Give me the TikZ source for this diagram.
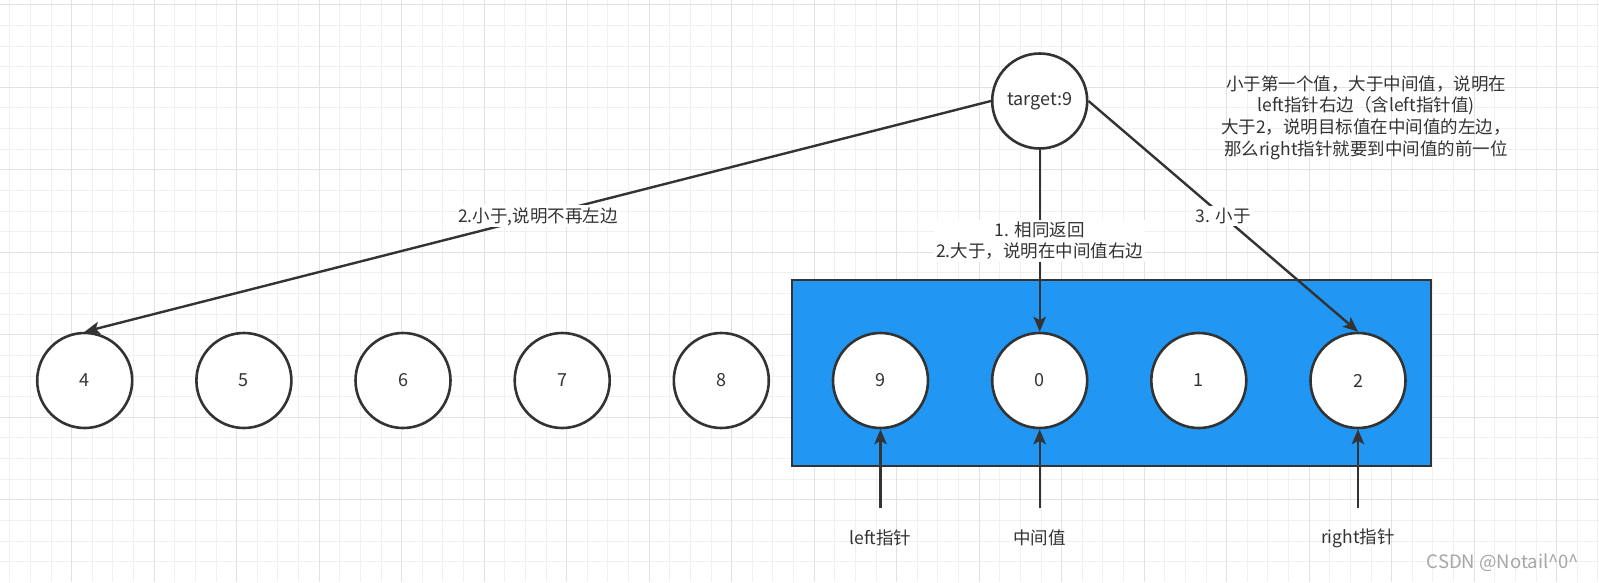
\documentclass[tikz,border=0pt]{standalone}
\usepackage{fontspec}
\setmainfont{Noto Sans CJK SC}
\usetikzlibrary{arrows.meta}
\definecolor{ink}{HTML}{333333}
\definecolor{boxblue}{HTML}{2196F3}
\definecolor{gridminor}{HTML}{F0F0F0}
\definecolor{gridmajor}{HTML}{E2E2E2}
\definecolor{wm}{HTML}{A6A6A6}
\tikzset{
  numnode/.style={circle, draw=ink, line width=2.6pt, fill=white, minimum size=95pt, inner sep=0pt,
    font=\fontsize{18}{21.6}\selectfont, text=ink},
  bluebox/.style={rectangle, draw=ink, fill=boxblue, line width=2.5pt, inner sep=0pt},
  conn/.style={draw=ink, line width=2.4pt, -{Stealth[length=15pt,width=12.5pt,inset=3.5pt]}},
  edgelabel/.style={fill=white, inner sep=2pt, text=ink, align=center,
    font=\fontsize{17.5}{21.6}\selectfont},
  plaintext/.style={inner sep=0pt, text=ink, align=center, font=\fontsize{17.5}{21.6}\selectfont},
  minorline/.style={draw=gridminor, line width=1pt},
  majorline/.style={draw=gridmajor, line width=1pt},
}
\begin{document}
\begin{tikzpicture}[x=1pt,y=-1pt]
\useasboundingbox (0,0) rectangle (1599,582);
\fill[white] (0,0) rectangle (1599,582);
% grid
\foreach \k in {0,...,77} {
  \draw[minorline] ({9.8+20.625*\k},0) -- ({9.8+20.625*\k},582);
}
\foreach \k in {0,...,27} {
  \draw[minorline] (0,{4.8+20.625*\k}) -- (1599,{4.8+20.625*\k});
}
\foreach \k in {0,...,19} {
  \draw[majorline] ({71.675+82.5*\k},0) -- ({71.675+82.5*\k},582);
}
\foreach \k in {0,...,6} {
  \draw[majorline] (0,{4.8+82.5*\k}) -- (1599,{4.8+82.5*\k});
}
% blue box
\node[bluebox, minimum width=638.6pt, minimum height=185.6pt] (box) at (1111.5,373) {};
% number circles
\node[numnode] (n4) at (84.7,380.5) {4};
\node[numnode] (n5) at (243.9,380.5) {5};
\node[numnode] (n6) at (403.0,380.5) {6};
\node[numnode] (n7) at (562.2,380.5) {7};
\node[numnode] (n8) at (721.3,380.5) {8};
\node[numnode] (n9) at (880.5,380.5) {9};
\node[numnode] (n0) at (1039.7,380.5) {0};
\node[numnode] (n1) at (1198.8,380.5) {1};
\node[numnode] (n2) at (1358.0,380.5) {2};
% target
\node[numnode] (t) at (1039.7,101) {target:9};
% connectors from target
\draw[conn] (t.west) -- node[edgelabel] {2.小于,说明不再左边} (n4.north);
\draw[conn] (t.south) -- node[edgelabel] {1. 相同返回\\2.大于，说明在中间值右边} (n0.north);
\draw[conn] (t.east) -- node[edgelabel] {3. 小于} (n2.north);
% pointers
\coordinate (pl) at (880.5,508);
\coordinate (pm) at (1039.7,508);
\coordinate (pr) at (1358.0,508);
\draw[conn] (pl) -- (n9.south);
\draw[conn] (pm) -- (n0.south);
\draw[conn] (pr) -- (n2.south);
\node[plaintext] (ll) at (880.5,538) {left指针};
\node[plaintext] (lm) at (1039.7,538) {中间值};
\node[plaintext] (lr) at (1358.0,538) {right指针};
% note
\node[plaintext] (note) at (1366,117.5) {小于第一个值，大于中间值，说明在\\left指针右边（含left指针值)\\大于2，说明目标值在中间值的左边，\\那么right指针就要到中间值的前一位};
% watermark
\node[inner sep=0pt, text=wm, font=\fontsize{18.5}{20}\selectfont] (wmark) at (1503,563) {CSDN @Notail\^{}0\^{}};
\end{tikzpicture}
\end{document}
